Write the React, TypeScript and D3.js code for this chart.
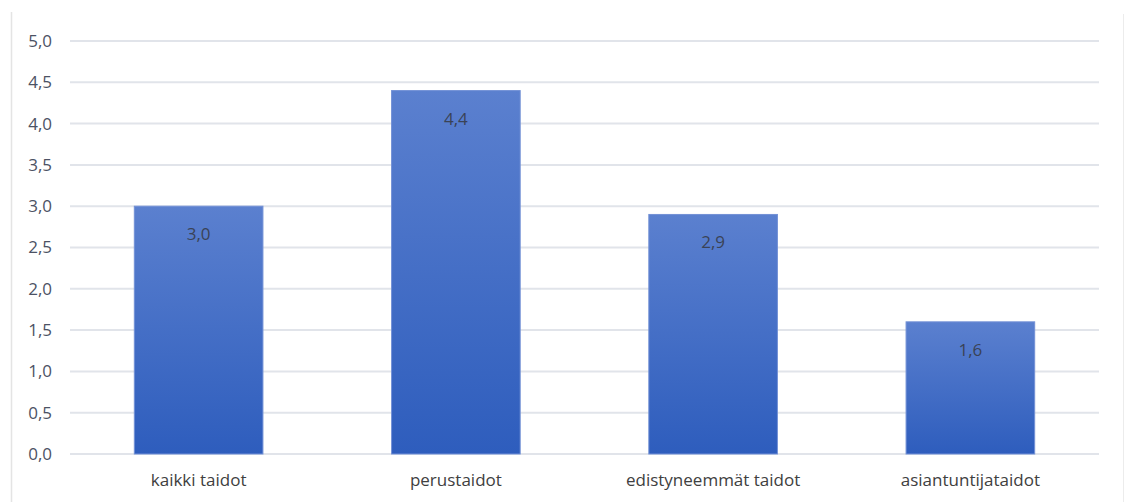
import React, { useRef, useEffect } from "react";
import * as d3 from "d3";

const categories = ["kaikki taidot", "perustaidot", "edistyneemmät taidot", "asiantuntijataidot"];
const values = [3.0, 4.4, 2.9, 1.6];
const yTicks = [0, 0.5, 1, 1.5, 2, 2.5, 3, 3.5, 4, 4.5, 5];

const width = 1126;
const height = 502;

const fmt = (v: number) => v.toFixed(1).replace(".", ",");

const App = () => {
  const node: any = useRef();

  useEffect(() => {
    const svg = d3.select(node.current);
    svg.selectAll("*").remove();

    const margin = { top: 41, right: 27, bottom: 48, left: 70 };
    const innerW = width - margin.left - margin.right;
    const innerH = height - margin.top - margin.bottom;

    // gradient for bars
    const defs = svg.append("defs");
    const grad = defs
      .append("linearGradient")
      .attr("id", "barGrad")
      .attr("x1", 0)
      .attr("y1", 0)
      .attr("x2", 0)
      .attr("y2", 1);
    grad.append("stop").attr("offset", "0%").attr("stop-color", "#5b80cf");
    grad.append("stop").attr("offset", "100%").attr("stop-color", "#2e5dbd");

    // chart frame (left and right edges)
    svg
      .append("line")
      .attr("x1", 11.5)
      .attr("x2", 11.5)
      .attr("y1", 12)
      .attr("y2", height)
      .attr("stroke", "#e4e4e4")
      .attr("stroke-width", 1.5);
    svg
      .append("line")
      .attr("x1", 1123.5)
      .attr("x2", 1123.5)
      .attr("y1", 14)
      .attr("y2", height)
      .attr("stroke", "#ececec")
      .attr("stroke-width", 1);

    const g = svg.append("g").attr("transform", `translate(${margin.left},${margin.top})`);

    const x = d3
      .scaleBand()
      .domain(categories)
      .range([0, innerW])
      .paddingInner(0.5)
      .paddingOuter(0.25);

    const y = d3.scaleLinear().domain([0, 5]).range([innerH, 0]);

    // gridlines
    g.selectAll("line.grid")
      .data(yTicks)
      .enter()
      .append("line")
      .attr("class", "grid")
      .attr("x1", 0)
      .attr("x2", innerW)
      .attr("y1", (d: number) => y(d))
      .attr("y2", (d: number) => y(d))
      .attr("stroke", "#e1e4ea")
      .attr("stroke-width", 2);

    // y tick labels
    g.selectAll("text.ytick")
      .data(yTicks)
      .enter()
      .append("text")
      .attr("class", "ytick")
      .attr("x", -18)
      .attr("y", (d: number) => y(d))
      .attr("dy", "0.35em")
      .attr("text-anchor", "end")
      .attr("font-family", "'Open Sans', sans-serif")
      .attr("font-size", 17)
      .attr("font-weight", 500)
      .attr("fill", "#4c5264")
      .text((d: number) => fmt(d));

    // bars
    g.selectAll("rect.bar")
      .data(values)
      .enter()
      .append("rect")
      .attr("class", "bar")
      .attr("x", (_: number, i: number) => x(categories[i]) as number)
      .attr("y", (d: number) => y(d))
      .attr("width", x.bandwidth())
      .attr("height", (d: number) => innerH - y(d))
      .attr("fill", "url(#barGrad)")
      .attr("stroke", "#7391d6")
      .attr("stroke-width", 1);

    // value labels
    g.selectAll("text.val")
      .data(values)
      .enter()
      .append("text")
      .attr("class", "val")
      .attr("x", (_: number, i: number) => (x(categories[i]) as number) + x.bandwidth() / 2)
      .attr("y", (d: number) => y(d) + 34)
      .attr("text-anchor", "middle")
      .attr("font-family", "'Open Sans', sans-serif")
      .attr("font-size", 17)
      .attr("font-weight", 500)
      .attr("fill", "#3a4356")
      .text((d: number) => fmt(d));

    // category labels
    g.selectAll("text.cat")
      .data(categories)
      .enter()
      .append("text")
      .attr("class", "cat")
      .attr("x", (d: string) => (x(d) as number) + x.bandwidth() / 2)
      .attr("y", innerH + 32)
      .attr("text-anchor", "middle")
      .attr("font-family", "'Open Sans', sans-serif")
      .attr("font-size", 17)
      .attr("fill", "#404040")
      .text((d: string) => d);
  }, []);

  return (
    <svg
      ref={node}
      width={width}
      height={height}
      style={{ position: "absolute", left: 0, top: 0, background: "#fff" }}
    ></svg>
  );
};

export default App;
